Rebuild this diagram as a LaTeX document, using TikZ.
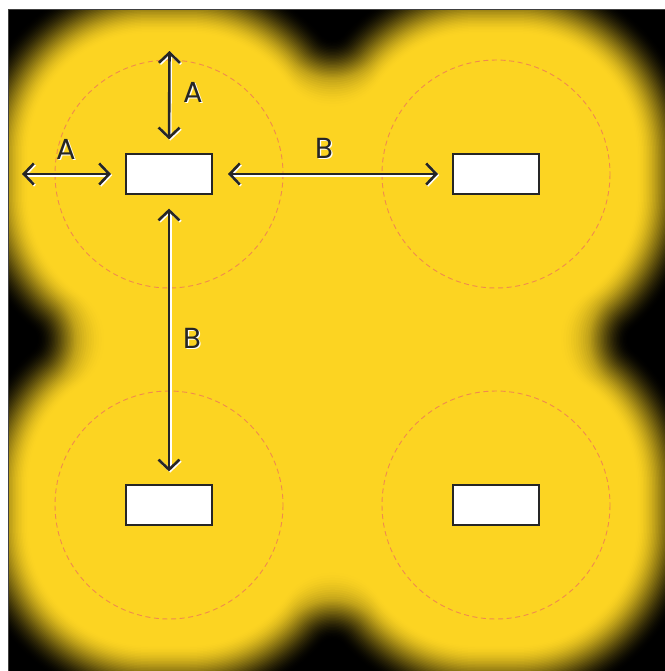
\documentclass[tikz,border=0pt]{standalone}
\usepackage{fontspec}
\setmainfont{Poppins}
\usetikzlibrary{arrows.meta}

\definecolor{glowyellow}{HTML}{FCD422}
\definecolor{zoneorange}{HTML}{F08A4E}
\definecolor{inkgray}{HTML}{262626}

\tikzset{
  unitbox/.style={draw=inkgray, fill=white, line width=0.6pt,
    minimum width=43pt, minimum height=20pt, inner sep=0pt},
  zone/.style={draw=zoneorange, line width=0.45pt, dash pattern=on 2.5pt off 1.8pt},
  gapline/.style={line width=1.3pt,
    {Straight Barb[length=5pt,width=10.5pt]}-{Straight Barb[length=5pt,width=10.5pt]}},
  gaplabel/.style={text=inkgray, font=\fontsize{14.5}{16}\selectfont, inner sep=0pt},
}

% text with a light edge below right
\newcommand{\lit}[1]{\rlap{\kern0.6pt\raisebox{-0.6pt}{\color{white}#1}}#1}
% double arrow with a light edge below right
\newcommand{\gapdraw}[3][]{%
  \draw[gapline, #1, white, transform canvas={shift={(0.6pt,-0.6pt)}}] #2 -- #3;
  \draw[gapline, #1, inkgray] #2 -- #3;}
% glow bridge between two lamps: C1x C1y C2x C2y nx ny half-gap
\newcommand{\bridge}[7]{%
  \pgfmathsetmacro\hh{100*sqrt(((\lr+\rr)/100)^2-(#7/100)^2)}%
  \pgfmathsetmacro\fx{(#1+#3)/2+\hh*(#5)}%
  \pgfmathsetmacro\fy{(#2+#4)/2+\hh*(#6)}%
  \pgfmathsetmacro\kk{\lr/(\lr+\rr)}%
  \pgfmathsetmacro\pax{#1+(\fx-#1)*\kk}%
  \pgfmathsetmacro\pay{#2+(\fy-#2)*\kk}%
  \pgfmathsetmacro\angA{atan2(#2-\fy,#1-\fx)}%
  \pgfmathsetmacro\angB{atan2(#4-\fy,#3-\fx)}%
  \pgfmathsetmacro\angB{(\angB-\angA>180) ? (\angB-360) : ((\angB-\angA<-180) ? (\angB+360) : \angB)}%
  \fill[layer] (#1,#2) -- (\pax,\pay) arc[start angle=\angA, end angle=\angB, radius=\rr] -- (#3,#4) -- cycle;}

\begin{document}
\begin{tikzpicture}[x=0.5pt, y=-0.5pt]
\useasboundingbox (0,0) rectangle (665,671);

% background and glow
\begin{scope}
  \clip (8,9) rectangle (665,671);
  \fill[black] (8,9) rectangle (665,671);
  \foreach \rad in {201,199.5,...,139} {
    \pgfmathsetmacro\xx{max(0,min(1,(\rad-140)/60))}
    \pgfmathsetmacro\p{100*(1-\xx)^2*(1+2*\xx)}
    \pgfmathsetmacro\lr{\rad-20}
    \pgfmathsetmacro\rr{14+42*min(1,max(0,(198-\rad)/40))}
    \pgfmathsetmacro\cr{\lr*0.5}
    \colorlet{layer}{glowyellow!\p!black}
    \foreach \cx/\cy in {169/174,496/174,169/505,496/505}
      \fill[layer, rounded corners=\cr pt] (\cx-\rad,\cy-\rad) rectangle (\cx+\rad,\cy+\rad);
    \bridge{189}{154}{476}{154}{0}{-1}{143.5}
    \bridge{189}{525}{476}{525}{0}{1}{143.5}
    \bridge{149}{194}{149}{485}{-1}{0}{145.5}
    \bridge{516}{194}{516}{485}{1}{0}{145.5}
  }
  \fill[glowyellow] (149,154) rectangle (516,525);
\end{scope}
\draw[black!75, line width=0.4pt] (8,671) -- (8,9) -- (665,9);

% units
\node[unitbox] (tl) at (169,174) {};
\node[unitbox] (tr) at (496,174) {};
\node[unitbox] (bl) at (169,505) {};
\node[unitbox] (br) at (496,505) {};
\foreach \u in {tl,tr,bl,br}
  \draw[zone] (\u.center) circle[radius=114];

% gaps
\coordinate (topend) at (169.5,51);
\coordinate (leftend) at (22,174);
\gapdraw[shorten >=7pt]{(topend)}{(tl.north)}
\gapdraw[shorten >=7.2pt]{(leftend)}{(tl.west)}
\gapdraw[shorten <=7.7pt, shorten >=7.2pt]{(tl.east)}{(tr.west)}
\gapdraw[shorten <=7pt, shorten >=6.5pt]{(tl.south)}{(bl.north)}

% labels
\node[gaplabel] (lblAtop) at (193,93) {\lit{A}};
\node[gaplabel] (lblAleft) at (66,150) {\lit{A}};
\node[gaplabel] (lblBright) at (324,149) {\lit{B}};
\node[gaplabel] (lblBdown) at (192,339) {\lit{B}};
\end{tikzpicture}
\end{document}
